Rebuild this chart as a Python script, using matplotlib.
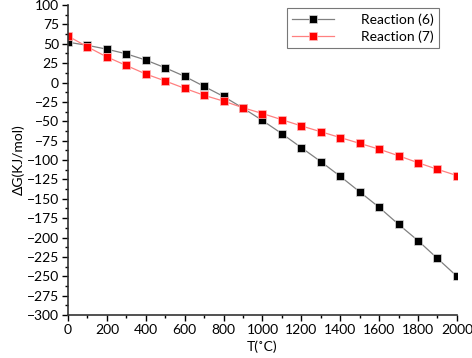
import numpy as np
import matplotlib.pyplot as plt
from matplotlib.ticker import MultipleLocator

plt.rcParams['font.family'] = ['Lato', 'DejaVu Sans']

temps = [0, 100, 200, 300, 400, 500, 600, 700, 800, 900, 1000,
         1100, 1200, 1300, 1400, 1500, 1600, 1700, 1800, 1900, 2000]
reaction6 = [52, 48, 43, 37, 29, 19, 8, -5, -18, -33, -49,
             -66, -84, -102, -121, -141, -161, -183, -204, -227, -250]
reaction7 = [60, 46, 33, 22, 11, 2, -7.5, -16.5, -24, -32.5, -40,
             -48, -56, -63.5, -71, -78.5, -86, -94.5, -103.5, -112, -120]

fig = plt.figure(figsize=(4.72, 3.58), dpi=100)
ax = fig.add_axes([0.144, 0.120, 0.824, 0.866])

ax.plot(temps, reaction6, color='#808080', lw=0.9, marker='s', ms=5.5,
        mfc='black', mec='#dddddd', mew=0.5, label='Reaction (6)')
ax.plot(temps, reaction7, color='#ff8080', lw=0.9, marker='s', ms=5.5,
        mfc='#ff0000', mec='#ffbbbb', mew=0.5, label='Reaction (7)')

ax.set_xlim(0, 2000)
ax.set_ylim(-300, 100)
ax.xaxis.set_major_locator(MultipleLocator(200))
ax.xaxis.set_minor_locator(MultipleLocator(100))
ax.yaxis.set_major_locator(MultipleLocator(25))
ax.yaxis.set_minor_locator(MultipleLocator(12.5))
ax.tick_params(which='major', direction='out', length=4, width=1, labelsize=10, pad=2.5)
ax.tick_params(which='minor', direction='out', length=2.5, width=1)

ax.spines['top'].set_visible(False)
ax.spines['right'].set_visible(False)
for s in ('left', 'bottom'):
    ax.spines[s].set_linewidth(1.2)
    ax.spines[s].set_color('#333333')

ax.set_xlabel('T(˚C)', fontsize=10, labelpad=3)
ax.set_ylabel('ΔG(KJ/mol)', fontsize=10, labelpad=1)

leg = ax.legend(loc='upper right', bbox_to_anchor=(0.954, 0.99), borderaxespad=0,
                fontsize=10, fancybox=False, edgecolor='#555555', handlelength=3.0,
                handletextpad=2.0, borderpad=0.35, labelspacing=0.35)
leg.get_frame().set_linewidth(0.8)

fig.savefig('out.png', dpi=100)
